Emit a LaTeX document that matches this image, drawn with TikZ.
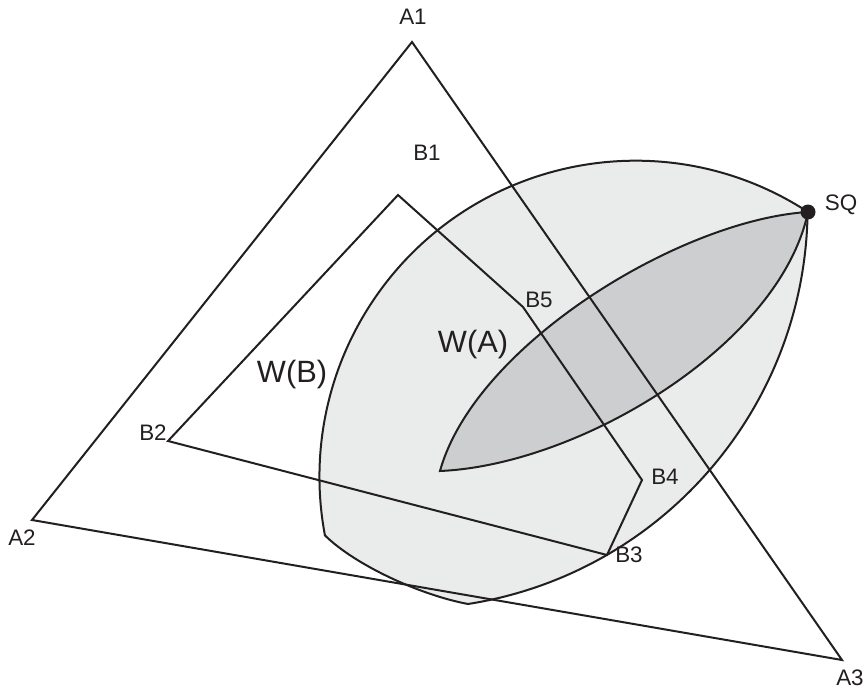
\documentclass[tikz,border=0pt]{standalone}
\usepackage{fontspec}
\setmainfont{Liberation Sans}
\definecolor{lightfill}{RGB}{234,235,235}
\definecolor{darkfill}{RGB}{205,206,208}
\definecolor{ink}{RGB}{35,31,32}
\tikzset{
  edge/.style={draw=ink, line width=1pt},
  vlabel/.style={inner sep=0pt, text=ink, font=\fontsize{11.2}{13}\selectfont},
  wlabel/.style={inner sep=0pt, text=ink, font=\fontsize{15.4}{18}\selectfont},
}
\begin{document}
\begin{tikzpicture}[x=0.5pt,y=0.5pt]
\useasboundingbox (0,0) rectangle (864,693);
% vertices
\coordinate (A1) at (412,651);
\coordinate (A2) at (32,173);
\coordinate (A3) at (842,33);
\coordinate (B1) at (398,498);
\coordinate (B2) at (168,252);
\coordinate (B3) at (607,138);
\coordinate (B4) at (642,213);
\coordinate (B5) at (523,386);
\coordinate (SQ) at (808,481);
\coordinate (P) at (440,222);
\coordinate (L2) at (468,89);
% light region W(A)
\path[edge, fill=lightfill] (SQ) arc[start angle=56.9, end angle=190.7, radius=158pt]
  .. controls (355,128) and (420,98) .. (L2)
  arc[start angle=-81.1, end angle=-0.7, radius=200.9pt] -- cycle;
% dark lens
\path[edge, fill=darkfill] (P) .. controls (475,348) and (680,473) .. (SQ)
  .. controls (780,348) and (580,228) .. (P) -- cycle;
% triangle A
\draw[edge] (A1) -- (A2) -- (A3) -- cycle;
% polygon B
\draw[edge] (B1) -- (B5) -- (B4) -- (B3) -- (B2) -- cycle;
% SQ point
\fill[ink] (SQ) circle[radius=3.75pt];
% labels
\node[vlabel] (lA1) at (413,676) {A1};
\node[vlabel] (lA2) at (22,155) {A2};
\node[vlabel] (lA3) at (850,15) {A3};
\node[vlabel] (lB1) at (427,540) {B1};
\node[vlabel] (lB2) at (153,260) {B2};
\node[vlabel] (lB3) at (629,138) {B3};
\node[vlabel] (lB4) at (665,216) {B4};
\node[vlabel] (lB5) at (539,393) {B5};
\node[vlabel] (lSQ) at (841,488) {SQ};
\node[wlabel] (lWA) at (473,348) {W(A)};
\node[wlabel] (lWB) at (292,318) {W(B)};
\end{tikzpicture}
\end{document}
